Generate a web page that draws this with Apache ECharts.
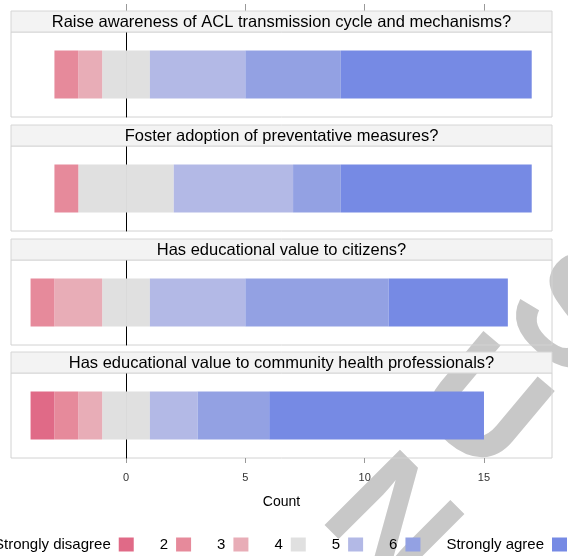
<!DOCTYPE html>
<html>
<head>
<meta charset="utf-8">
<script src="https://cdn.jsdelivr.net/npm/echarts@6/dist/echarts.min.js"></script>
<style>html,body{margin:0;padding:0;background:#fff;}#chart{width:568px;height:556px;}</style>
</head>
<body>
<div id="chart"></div>
<script>
const questions = [
  "Raise awareness of ACL transmission cycle and mechanisms?",
  "Foster adoption of preventative measures?",
  "Has educational value to citizens?",
  "Has educational value to community health professionals?"
];
const levels = ["Strongly disagree", "2", "3", "4", "5", "6", "Strongly agree"];
const stronglyDisagree = [0, 0, 0, 1];
const level2 = [1, 1, 1, 1];
const level3 = [1, 0, 2, 1];
const level4 = [2, 4, 2, 2];
const level5 = [4, 5, 4, 2];
const level6 = [4, 2, 6, 3];
const stronglyAgree = [8, 8, 5, 9];
const tickMin = 0, tickMax = 15, tickStep = 5;
const colors = ["#e06a87", "#e68a9b", "#e8adb7", "#e0e0e0", "#b3b9e6", "#93a1e3", "#768ae4"];

const FONT = "Liberation Sans, Arial, Helvetica, sans-serif";
const stripTops = [11, 125, 239, 352];
const panelTops = [32, 146, 260, 373];
const PANEL_H = 85, STRIP_H = 21, LEFT = 11, WIDTH = 541;
const XMIN = -4.82, XMAX = 17.85;

const counts = [stronglyDisagree, level2, level3, level4, level5, level6, stronglyAgree];

const grids = [], xAxes = [], yAxes = [], series = [], graphics = [];

// background watermark glyphs (scan artefact of the source figure)
const wm = (ch, x, y, rot) => graphics.push({
  type: 'text', z: -5, x: x, y: y, rotation: rot, silent: true,
  style: { text: ch, fontSize: 155, fontWeight: 'bold', fontFamily: FONT, fill: '#c8c8c8', align: 'center', verticalAlign: 'middle' }
});
wm('N', 387, 527, -Math.PI / 4);
wm('U', 478, 410, -Math.PI / 4.5);
wm('S', 566, 318, -Math.PI / 4.5);

questions.forEach((q, i) => {
  const last = i === questions.length - 1;
  grids.push({ left: LEFT, width: WIDTH, top: panelTops[i], height: PANEL_H, show: true, borderColor: '#d2d2d2', borderWidth: 1, backgroundColor: 'transparent' });
  xAxes.push({
    type: 'value', gridIndex: i, min: XMIN, max: XMAX, position: 'bottom',
    axisLine: { show: false, onZero: false }, splitLine: { show: false },
    axisTick: { show: false }, axisLabel: { show: false },
    name: last ? 'Count' : '', nameLocation: 'middle', nameGap: 37,
    nameTextStyle: { fontSize: 14, color: '#000', fontFamily: FONT }
  });
  yAxes.push({
    type: 'category', gridIndex: i, data: [q],
    axisLine: { show: true, onZero: true, lineStyle: { color: '#000', width: 1 } },
    axisTick: { show: false }, axisLabel: { show: false }, splitLine: { show: false }
  });
  // diverging stack: neutral split in half around zero
  const pushSeries = (name, color, value) => {
    series.push({
      type: 'bar', name: name, xAxisIndex: i, yAxisIndex: i, stack: 'q' + i,
      barWidth: 48, itemStyle: { color: color }, data: [value],
      emphasis: { disabled: true }, silent: true
    });
  };
  pushSeries(levels[3], colors[3], -counts[3][i] / 2);
  pushSeries(levels[3], colors[3], counts[3][i] / 2);
  pushSeries(levels[2], colors[2], -counts[2][i]);
  pushSeries(levels[4], colors[4], counts[4][i]);
  pushSeries(levels[1], colors[1], -counts[1][i]);
  pushSeries(levels[5], colors[5], counts[5][i]);
  pushSeries(levels[0], colors[0], -counts[0][i]);
  pushSeries(levels[6], colors[6], counts[6][i]);

  graphics.push({
    type: 'rect', z: 10, shape: { x: LEFT, y: stripTops[i], width: WIDTH, height: STRIP_H },
    style: { fill: '#f3f3f3', stroke: '#d6d6d6', lineWidth: 1 }
  });
  graphics.push({
    type: 'text', z: 11, x: LEFT + WIDTH / 2, y: stripTops[i] + STRIP_H / 2 + 1,
    style: { text: q, fontSize: 16.5, fontFamily: FONT, fill: '#000', align: 'center', verticalAlign: 'middle' }
  });
});

// tick rows sharing the panels' scale: short split lines in thin grids act as ticks
const pxPerUnit = WIDTH / (XMAX - XMIN);
const tickLeft = LEFT + (tickMin - XMIN) * pxPerUnit;
const tickWidth = (tickMax - tickMin) * pxPerUnit;
const addTickRow = (top, height, withLabels) => {
  const gi = grids.length;
  grids.push({ left: tickLeft, width: tickWidth, top: top, height: height, show: false });
  xAxes.push({
    type: 'value', gridIndex: gi, min: tickMin, max: tickMax, interval: tickStep, position: 'bottom',
    axisLine: { show: false, onZero: false }, axisTick: { show: false },
    splitLine: { show: true, showMinLine: true, showMaxLine: true, lineStyle: { color: '#999999', width: 1 } },
    axisLabel: { show: withLabels, fontSize: 11, margin: 9, color: '#333', fontFamily: FONT }
  });
  yAxes.push({ type: 'value', gridIndex: gi, show: false, min: 0, max: 1 });
  series.push({ type: 'scatter', xAxisIndex: gi, yAxisIndex: gi, data: [], silent: true });
};
addTickRow(4, 7, false);                                // tick row above the first strip
addTickRow(panelTops[3] + PANEL_H, 5, true);             // ticks + labels under the last panel

const chart = echarts.init(document.getElementById('chart'), null, { renderer: 'canvas' });
chart.setOption({
  animation: false,
  backgroundColor: '#fff',
  grid: grids, xAxis: xAxes, yAxis: yAxes, series: series,
  graphic: graphics,
  legend: {
    data: levels, left: -6, top: 537, padding: 0, itemGap: 26, itemWidth: 15, itemHeight: 14,
    align: 'right', icon: 'rect', selectedMode: false,
    textStyle: { fontSize: 15, color: '#000', fontFamily: FONT, padding: [0, 3, 0, 0] }
  }
});
</script>
</body>
</html>
